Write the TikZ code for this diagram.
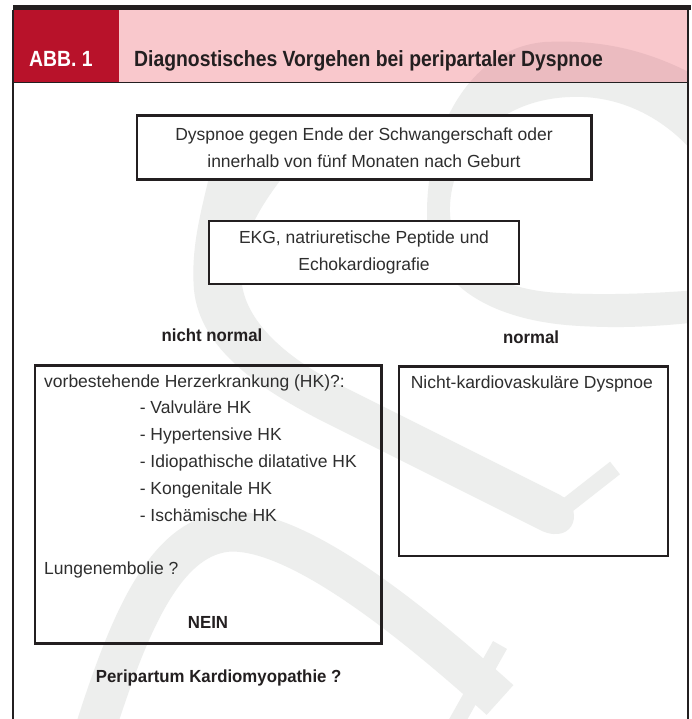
\documentclass[tikz,border=0pt]{standalone}
\usepackage{fontspec}
\setmainfont{Liberation Sans}
\newfontfamily\headfont[FakeStretch=0.88]{Liberation Sans}
\newfontfamily\labfont[FakeStretch=0.96]{Liberation Sans}
\usepackage{xcolor}
\usetikzlibrary{positioning}

\definecolor{abbred}{HTML}{B8122A}
\definecolor{abbpink}{HTML}{F9C8CC}
\definecolor{pinkshade}{HTML}{EBBBC0}
\definecolor{wmgray}{HTML}{EDEEED}
\definecolor{inkgray}{HTML}{2E2E2E}
\definecolor{barblack}{HTML}{231F20}

\begin{document}
\begin{tikzpicture}[
    x=1pt, y=1pt,
    font=\fontsize{17.5}{26.6}\selectfont,
    textbox/.style={draw=barblack, line width=2.4pt, fill=white, align=center, text=inkgray, inner sep=0pt},
    openbox/.style={draw=barblack, line width=2.4pt, inner sep=0pt},
    entry/.style={anchor=base west, inner sep=0pt, text=inkgray},
    boldtag/.style={anchor=base, inner sep=0pt, text=barblack, font=\labfont\bfseries\fontsize{17.5}{21}\selectfont},
    headtext/.style={anchor=base west, inner sep=0pt, font=\headfont\bfseries\fontsize{22}{26}\selectfont},
    ringpath/.style={insert path={
      (700,78) .. controls (640,45) and (590,40) .. (545,42)
        .. controls (470,48) and (427,130) .. (427,213)
        .. controls (427,290) and (500,322) .. (580,326)
        .. controls (630,329) and (670,325) .. (700,322) -- cycle
      (700,160) .. controls (660,110) and (610,95) .. (570,97)
        .. controls (490,100) and (448,160) .. (450,213)
        .. controls (452,265) and (500,290) .. (560,293)
        .. controls (620,296) and (670,292) .. (700,290) -- cycle}}
  ]
  \useasboundingbox (0,0) rectangle (691,719);
  \fill[white] (0,0) rectangle (691,719);

  % header
  \fill[barblack] (12.5,709) rectangle (691,713.5);
  \fill[abbred] (13,636.4) rectangle (119,709);
  \fill[abbpink] (119,636.4) rectangle (688,709);

  % watermark (y pointing down)
  \begin{scope}[shift={(0,719)}, yscale=-1]
    \begin{scope}
      \clip (13,82.6) rectangle (688,719);
      \fill[wmgray, even odd rule, ringpath];
      \fill[wmgray] (305,150) .. controls (262,200) and (236,240) .. (242,285)
        .. controls (248,325) and (290,360) .. (340,385) -- (560,495)
        .. controls (585,508) and (575,545) .. (542,531) -- (322,421)
        .. controls (262,390) and (200,350) .. (194,290)
        .. controls (190,240) and (205,200) .. (215,150) -- cycle;
      \draw[wmgray, line width=16pt] (555,515) -- (615,468);
      \draw[wmgray, line width=40pt] (95,730) .. controls (130,620) and (165,540) .. (225,532)
        .. controls (290,525) and (400,610) .. (500,700);
      \draw[wmgray, line width=16pt] (455,725) -- (500,645);
    \end{scope}
    \begin{scope}
      \clip (119,10) rectangle (688,82.6);
      \fill[pinkshade, even odd rule, ringpath];
    \end{scope}
  \end{scope}

  \draw[barblack, line width=1pt] (13,636.4) -- (688,636.4);
  \draw[barblack, line width=1.3pt] (13,709) -- (13,0);
  \draw[barblack, line width=1.3pt] (688,709) -- (688,0);

  \node[headtext, text=white] (abb) at (29,652) {ABB. 1};
  \node[headtext, text=barblack] (title) at (134,652) {Diagnostisches Vorgehen bei peripartaler Dyspnoe};

  % flow boxes
  \node[textbox, minimum width=454.6pt, minimum height=63.8pt] (dyspnoe) at (364,571.5)
    {Dyspnoe gegen Ende der Schwangerschaft oder\\innerhalb von fünf Monaten nach Geburt};
  \node[textbox, minimum width=309.6pt, minimum height=62.9pt, below=39.4pt of dyspnoe] (diagnostik)
    {EKG, natriuretische Peptide und\\Echokardiografie};

  \node[boldtag] (abnormal) at (212,377.7) {nicht normal};
  \node[boldtag] (normal) at (531,375.7) {normal};

  \node[openbox, minimum width=346.7pt, minimum height=278pt] (herz) at (208.15,214.4) {};
  \node[openbox, minimum width=269.1pt, minimum height=189.5pt] (nichtkard) at (533.25,257.75) {};

  \node[entry] (vorbest) at (44,331.5) {vorbestehende Herzerkrankung (HK)?:};
  \foreach \name/\txt [count=\i from 0] in {valv/Valvuläre HK, hyper/Hypertensive HK,
      idio/Idiopathische dilatative HK, kong/Kongenitale HK, isch/Ischämische HK}
    \node[entry] (\name) at (139.6,305.5-26.9*\i) {- \txt};
  \node[entry] (lunge) at (44,144.5) {Lungenembolie ?};
  \node[boldtag] (nein) at (208,90.2) {NEIN};

  \node[entry] (nkd) at (410.6,330) {Nicht-kardiovaskuläre Dyspnoe};

  \node[boldtag] (ppcm) at (218.7,36) {Peripartum Kardiomyopathie ?};
\end{tikzpicture}
\end{document}
